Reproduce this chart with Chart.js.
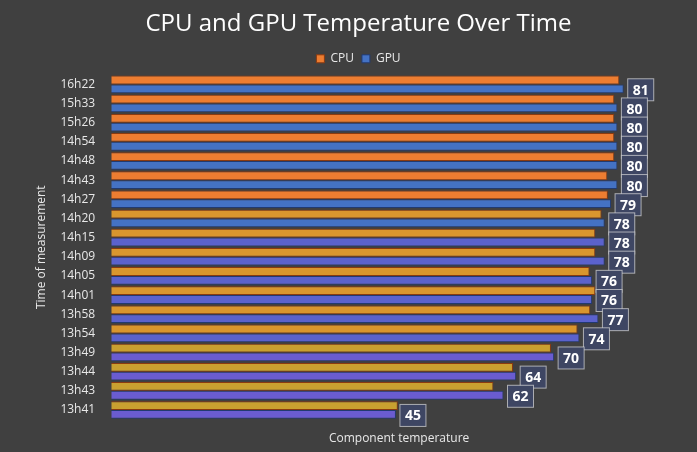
<!DOCTYPE html>
<html><head><meta charset="utf-8">
<script src="https://cdn.jsdelivr.net/npm/chart.js@4"></script>
<style>html,body{margin:0;background:#404040;}#w{width:697px;height:452px;}</style>
</head><body><div id="w"><canvas id="c"></canvas></div>
<script>
const categories=["16h22","15h33","15h26","14h54","14h48","14h43","14h27","14h20","14h15","14h09","14h05","14h01","13h58","13h54","13h49","13h44","13h43","13h41"];
const cpuValues=[80.3,79.5,79.5,79.5,79.5,78.4,78.5,77.5,76.5,76.5,75.6,76.5,75.7,73.7,69.5,63.5,60.4,45.3];
const gpuValues=[81,80,80,80,80,80,79,78,78,78,76,76,77,74,70,64,62,45];
const cpuColors=categories.map((c,i)=>i<7?'#ED7D31':(i<14?'#D9962E':'#C9A030'));
const gpuColors=categories.map((c,i)=>i<8?'#4472C4':(i<14?'#5B62CC':'#6A5CD0'));
const labelPlugin={id:'lbl',afterDatasetsDraw(chart){
  const ctx=chart.ctx, meta=chart.getDatasetMeta(1);
  ctx.save();ctx.font='bold 14px "Open Sans"';ctx.textAlign='center';ctx.textBaseline='middle';
  meta.data.forEach((b,i)=>{
    const x=b.x+17,y=b.y+1,w=26,h=22;
    ctx.fillStyle='#3E4663';ctx.fillRect(x-w/2,y-h/2,w,h);
    ctx.strokeStyle='rgba(220,220,220,0.7)';ctx.lineWidth=1;ctx.strokeRect(x-w/2,y-h/2,w,h);
    ctx.fillStyle='#fff';ctx.fillText(gpuValues[i],x,y+1);
  });ctx.restore();}};
new Chart(document.getElementById('c'),{type:'bar',
 data:{labels:categories,datasets:[
  {label:'CPU',data:cpuValues,backgroundColor:cpuColors,borderColor:'#8a3a10',borderWidth:1,categoryPercentage:0.92,barPercentage:1},
  {label:'GPU',data:gpuValues,backgroundColor:gpuColors,borderColor:'#223a70',borderWidth:1,categoryPercentage:0.92,barPercentage:1}]},
 options:{indexAxis:'y',responsive:true,maintainAspectRatio:false,animation:false,
  layout:{padding:{left:30,right:10,top:6,bottom:2}},
  plugins:{title:{display:true,text:'CPU and GPU Temperature Over Time',color:'#fff',font:{family:'Open Sans',size:24,weight:'normal'},padding:{top:4,bottom:6}},
   legend:{labels:{color:'#e8e8e8',boxWidth:8,boxHeight:8,padding:8,font:{family:'Open Sans',size:12}}},tooltip:{enabled:false}},
  scales:{x:{min:0,max:91,display:true,grid:{display:false},border:{display:false},ticks:{display:false},
     title:{display:true,text:'Component temperature',color:'#e8e8e8',font:{family:'Open Sans',size:12}}},
   y:{grid:{display:false},border:{display:false},ticks:{color:'#e8e8e8',padding:8,font:{family:'Open Sans',size:12}},
     title:{display:true,text:'Time of measurement',color:'#e8e8e8',font:{family:'Open Sans',size:12}}}}},
 plugins:[labelPlugin]});
</script></body></html>
